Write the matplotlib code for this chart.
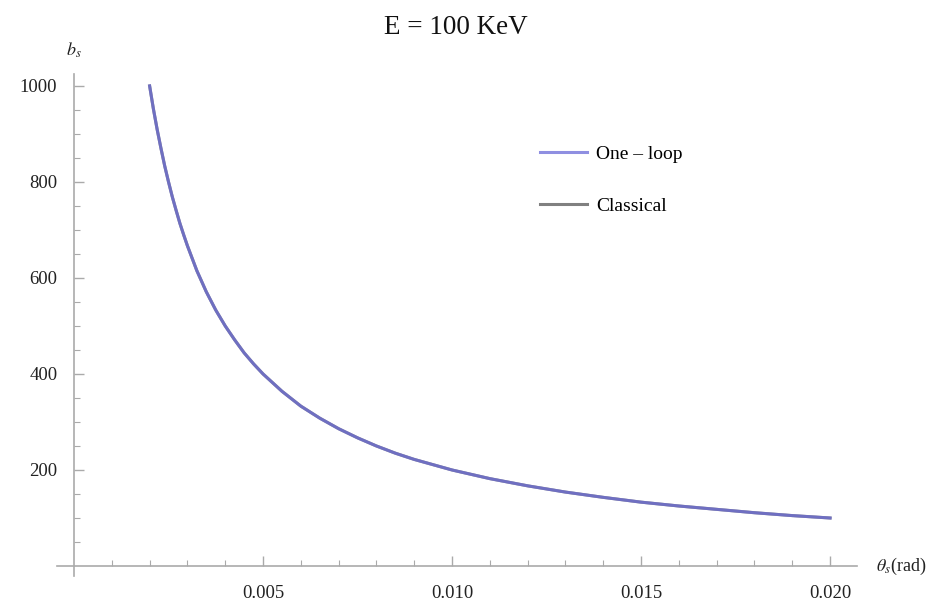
import matplotlib.pyplot as plt
import matplotlib.ticker as ticker

# values
theta = [0.0020, 0.0021, 0.0022, 0.0023, 0.0024, 0.0025, 0.0026, 0.0027, 0.0028, 0.0029,
         0.0030, 0.00325, 0.0035, 0.00375, 0.0040, 0.00425, 0.0045, 0.00475, 0.0050,
         0.0055, 0.0060, 0.0065, 0.0070, 0.0075, 0.0080, 0.0085, 0.0090, 0.0095, 0.0100,
         0.011, 0.012, 0.013, 0.014, 0.015, 0.016, 0.017, 0.018, 0.019, 0.020]
one_loop = [1000, 952, 909, 870, 833, 800, 769, 741, 714, 690,
            667, 615, 571, 533, 500, 471, 444, 421, 400,
            364, 333, 308, 286, 267, 250, 235, 222, 211, 200,
            182, 167, 154, 143, 133, 125, 118, 111, 105, 100]
classical = [1000, 952, 909, 870, 833, 800, 769, 741, 714, 690,
             667, 615, 571, 533, 500, 471, 444, 421, 400,
             364, 333, 308, 286, 267, 250, 235, 222, 211, 200,
             182, 167, 154, 143, 133, 125, 118, 111, 105, 100]
x_ticks = [0.005, 0.010, 0.015, 0.020]
x_tick_labels = ['0.005', '0.010', '0.015', '0.020']
y_ticks = [200, 400, 600, 800, 1000]

plt.rcParams['font.family'] = ['Liberation Serif', 'DejaVu Serif']
plt.rcParams['mathtext.fontset'] = 'stix'

fig = plt.figure(figsize=(9.45, 6.01), dpi=100)
ax = fig.add_axes([0, 0, 1, 1])
ax.set_xlim(-0.001958, 0.02304)
ax.set_ylim(-72.9, 1179)

ax.plot(theta, classical, color='#808080', lw=2.2, label='Classical', zorder=2)
ax.plot(theta, one_loop, color='#6a6ad8', lw=2.2, alpha=0.75, label='One \u2013 loop', zorder=3)

# Mathematica style axes crossing at the origin
for s in ['top', 'right']:
    ax.spines[s].set_visible(False)
ax.spines['left'].set_position(('data', 0))
ax.spines['bottom'].set_position(('data', 0))
ax.spines['bottom'].set_bounds(-0.00045, 0.0207)
ax.spines['left'].set_bounds(-20, 1025)
for s in ['left', 'bottom']:
    ax.spines[s].set_color('#aaaaaa')
    ax.spines[s].set_linewidth(1.2)

ax.set_xticks(x_ticks)
ax.set_xticklabels(x_tick_labels)
ax.set_yticks(y_ticks)
ax.xaxis.set_minor_locator(ticker.FixedLocator([i * 0.001 for i in range(0, 21) if i % 5]))
ax.yaxis.set_minor_locator(ticker.FixedLocator([i * 50 for i in range(0, 21) if i % 4]))
ax.tick_params(which='both', direction='in', color='#aaaaaa', labelsize=13.5, labelcolor='#222222')
ax.tick_params(which='major', length=7, width=1)
ax.tick_params(which='minor', length=4, width=0.8)
ax.tick_params(axis='x', pad=14)
ax.tick_params(axis='y', pad=12)

ax.text(0.02122, 0, r'$\theta_s$(rad)', fontsize=13, ha='left', va='center', color='#222222')
ax.text(0, 1055, r'$b_s$', fontsize=13, ha='center', va='bottom', color='#222222')
fig.text(0.482, 0.955, 'E = 100 KeV', fontsize=19.5, ha='center', va='center', color='#111111')

leg = ax.legend(handles=ax.get_lines()[::-1], loc='upper left', bbox_to_anchor=(0.553, 0.787),
                frameon=False, fontsize=14, handlelength=2.4, labelspacing=1.75, handletextpad=0.5)

fig.savefig('out.png', dpi=100)
